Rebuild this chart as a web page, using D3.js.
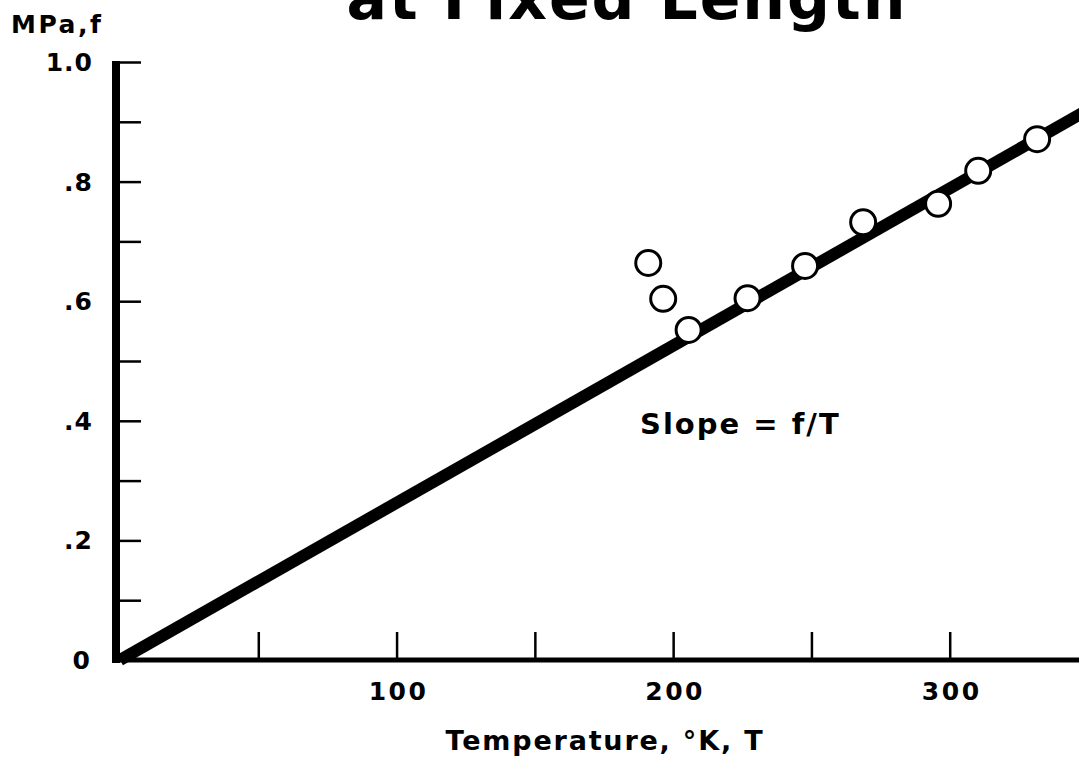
<!DOCTYPE html>
<html>
<head>
<meta charset="utf-8">
<script src="https://cdn.jsdelivr.net/npm/d3@7"></script>
<style>
  html, body { margin: 0; padding: 0; background: #fff; }
  svg { display: block; }
  text { font-family: "DejaVu Sans", "Liberation Sans", Arial, sans-serif; font-weight: bold; fill: #000; }
</style>
</head>
<body>
<svg id="chart" width="1079" height="757"></svg>
<script>
// ---- data ----
const temperatures = [191, 196.4, 205.6, 226.9, 247.7, 268.7, 295.8, 310.3, 331.6];
const forces       = [0.664, 0.604, 0.552, 0.605, 0.659, 0.732, 0.763, 0.818, 0.871];
const fitLineT     = [0, 350];
const fitLineF     = [0, 0.92];
const xTickValues  = [50, 100, 150, 200, 250, 300, 350];
const xTickLabels  = ["", "100", "", "200", "", "300", ""];
const yTickValues  = [0.1, 0.2, 0.3, 0.4, 0.5, 0.6, 0.7, 0.8, 0.9, 1.0];
const yTickLabels  = ["0", ".2", ".4", ".6", ".8", "1.0"];
const yLabelValues = [0, 0.2, 0.4, 0.6, 0.8, 1.0];
const titleText    = "at Fixed Length";
const yAxisTitle   = "MPa,f";
const xAxisTitle   = "Temperature, °K, T";
const annotation   = "Slope = f/T";

const svg = d3.select("#chart");
const x = d3.scaleLinear().domain([0, 350]).range([120, 1088]);
const y = d3.scaleLinear().domain([0, 1]).range([660, 62]);

// title (partially cut at top, as in the reference)
svg.append("text").attr("x", 627).attr("y", 19).attr("text-anchor", "middle")
  .attr("font-size", 60).attr("letter-spacing", 2).text(titleText);

// y axis
const yAxis = d3.axisRight(y).tickValues(yTickValues).tickSize(25).tickFormat("");
const gy = svg.append("g").attr("transform", `translate(${x(0) - 4},0)`).call(yAxis);
gy.select(".domain").remove();
gy.selectAll(".tick line").attr("stroke", "#000").attr("stroke-width", 2.5);
svg.append("line").attr("x1", x(0) - 4).attr("x2", x(0) - 4)
  .attr("y1", y(1) - 1).attr("y2", y(0) + 3).attr("stroke", "#000").attr("stroke-width", 8);

// x axis
const xAxis = d3.axisTop(x).tickValues(xTickValues).tickSize(28).tickFormat("");
const gx = svg.append("g").attr("transform", `translate(0,${y(0)})`).call(xAxis);
gx.select(".domain").remove();
gx.selectAll(".tick line").attr("stroke", "#000").attr("stroke-width", 2.5);
svg.append("line").attr("x1", x(0) - 8).attr("x2", 1079)
  .attr("y1", y(0)).attr("y2", y(0)).attr("stroke", "#000").attr("stroke-width", 5);

// y tick labels
svg.selectAll(".ylab").data(yLabelValues).enter().append("text")
  .attr("class", "ylab")
  .attr("x", (d, i) => i === 0 ? 91 : 93)
  .attr("y", d => y(d) + 9)
  .attr("text-anchor", "end").attr("font-size", 25).attr("letter-spacing", 1)
  .text((d, i) => yTickLabels[i]);

// x tick labels
svg.selectAll(".xlab").data(xTickValues).enter().append("text")
  .attr("class", "xlab")
  .attr("x", d => x(d) + 2)
  .attr("y", 700)
  .attr("text-anchor", "middle").attr("font-size", 25).attr("letter-spacing", 2.5)
  .text((d, i) => xTickLabels[i]);

// axis titles
svg.append("text").attr("x", 11).attr("y", 33).attr("font-size", 25)
  .attr("letter-spacing", 2.5).text(yAxisTitle);
svg.append("text").attr("x", 605).attr("y", 750).attr("text-anchor", "middle")
  .attr("font-size", 27).attr("letter-spacing", 1.8).text(xAxisTitle);

// annotation
svg.append("text").attr("x", 640).attr("y", 434).attr("font-size", 29)
  .attr("letter-spacing", 2).text(annotation);

// fit line
const lineData = fitLineT.map((t, i) => [t, fitLineF[i]]);
svg.append("path").datum(lineData)
  .attr("d", d3.line().x(d => x(d[0])).y(d => y(d[1])))
  .attr("stroke", "#000").attr("stroke-width", 12).attr("fill", "none");

// points
const pts = temperatures.map((t, i) => ({ t, f: forces[i] }));
svg.selectAll(".pt").data(pts).enter().append("circle")
  .attr("class", "pt")
  .attr("cx", d => x(d.t)).attr("cy", d => y(d.f)).attr("r", 12.5)
  .attr("fill", "#fff").attr("stroke", "#000").attr("stroke-width", 3);
</script>
</body>
</html>
